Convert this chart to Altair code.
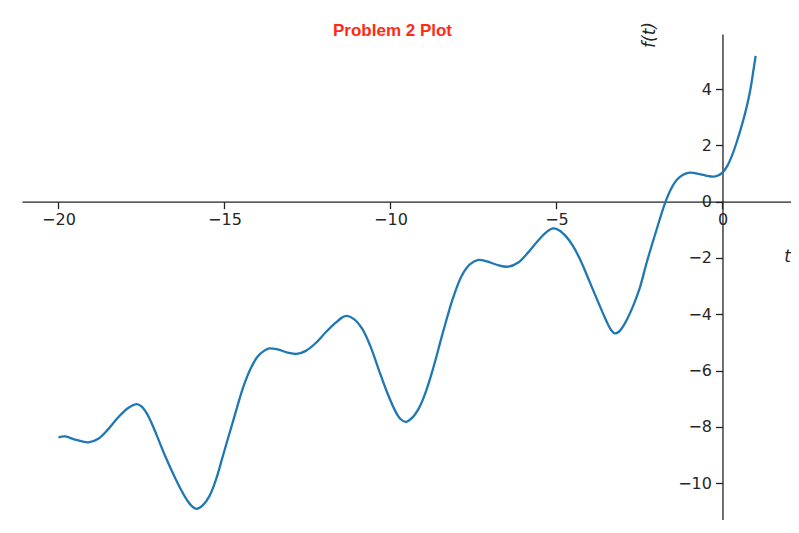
import altair as alt
import pandas as pd

# Values (t, f(t))
t_values = [-20.0, -19.8, -19.5, -19.1, -18.8, -18.5, -18.2, -17.9, -17.64,
            -17.5, -17.35, -17.2, -17.04, -16.8, -16.54, -16.3, -16.1, -15.95, -15.84,
            -15.65, -15.45, -15.25, -15.04, -14.73, -14.43, -14.2, -14.0, -13.8, -13.65,
            -13.4, -13.1, -12.83, -12.55, -12.25, -11.95, -11.65, -11.45, -11.32,
            -11.1, -10.85, -10.6, -10.35, -10.1, -9.85, -9.7, -9.54,
            -9.35, -9.15, -8.95, -8.71, -8.41, -8.11, -7.85, -7.6, -7.35,
            -7.1, -6.8, -6.45, -6.15, -5.85, -5.55, -5.3, -5.10,
            -4.9, -4.7, -4.5, -4.25, -4.0, -3.75, -3.58, -3.44, -3.34, -3.24,
            -3.12, -2.98, -2.85, -2.69, -2.5, -2.28, -2.0, -1.73, -1.55, -1.38, -1.2, -0.98,
            -0.75, -0.5, -0.28, -0.15, 0.0, 0.15, 0.3, 0.43, 0.58, 0.73, 0.85, 0.93, 1.0]
f_values = [-8.37, -8.34, -8.45, -8.55, -8.42, -8.08, -7.66, -7.33, -7.19,
            -7.27, -7.50, -7.85, -8.30, -9.00, -9.68, -10.25, -10.65, -10.85, -10.91,
            -10.78, -10.45, -9.85, -9.00, -7.75, -6.57, -5.90, -5.50, -5.29, -5.21,
            -5.25, -5.36, -5.41, -5.30, -5.02, -4.64, -4.30, -4.11, -4.06,
            -4.17, -4.52, -5.15, -5.98, -6.78, -7.45, -7.72, -7.82,
            -7.68, -7.35, -6.80, -5.90, -4.60, -3.40, -2.62, -2.22, -2.07,
            -2.12, -2.24, -2.31, -2.16, -1.80, -1.38, -1.08, -0.95,
            -1.03, -1.25, -1.58, -2.15, -2.85, -3.55, -4.02, -4.38, -4.58, -4.68,
            -4.62, -4.40, -4.12, -3.70, -3.10, -2.15, -1.05, -0.05, 0.45, 0.77, 0.95, 1.03,
            1.00, 0.93, 0.89, 0.92, 1.03, 1.28, 1.68, 2.12, 2.70, 3.37, 4.05, 4.65, 5.18]

x_ticks = [-20, -15, -10, -5, 0]
y_ticks = [-10, -8, -6, -4, -2, 0, 2, 4]

X_DOMAIN = [-21.099, 2.064]
Y_DOMAIN = [-11.308, 5.957]
W, H = 769, 486

df = pd.DataFrame({"t": t_values, "f": f_values})

x_off = -W * (0 - X_DOMAIN[0]) / (X_DOMAIN[1] - X_DOMAIN[0])
y_off = -H * (0 - Y_DOMAIN[0]) / (Y_DOMAIN[1] - Y_DOMAIN[0])

axis_common = dict(
    grid=False,
    domainColor="#222222",
    domainWidth=1.3,
    tickColor="#222222",
    tickWidth=1.3,
    tickSize=7,
    labelFont="DejaVu Sans",
    labelFontSize=16,
    labelColor="#262626",
    labelOverlap=False,
    labelFlush=False,
    format="d",
    titleFont="DejaVu Sans",
    titleFontSize=17,
    titleFontStyle="italic",
    titleFontWeight="normal",
    titleColor="#262626",
    titleAlign="center",
    titleBaseline="middle",
)

chart = alt.Chart(df).mark_line(
    interpolate="catmull-rom", color="#1f77b4", strokeWidth=2.3
).encode(
    x=alt.X("t:Q",
            scale=alt.Scale(domain=X_DOMAIN, nice=False, zero=False),
            axis=alt.Axis(values=x_ticks, offset=y_off, title="t",
                          titleX=765, titleY=55, labelPadding=3,
                          **axis_common)),
    y=alt.Y("f:Q",
            scale=alt.Scale(domain=Y_DOMAIN, nice=False, zero=False),
            axis=alt.Axis(values=y_ticks, offset=x_off, title="f(t)",
                          titleX=-72.5, titleY=0.5, titleAngle=270,
                          labelPadding=4, **axis_common)),
).properties(
    width=W,
    height=H,
    title=alt.TitleParams("Problem 2 Plot", color="#ff2a12", font="Liberation Sans",
                          fontSize=17, fontWeight="bold", anchor="middle",
                          frame="group", offset=0, dx=-14, dy=31,
                          baseline="alphabetic"),
    autosize=alt.AutoSizeParams(type="none"),
    padding={"left": 14, "top": 26, "right": 0, "bottom": 0},
).configure_view(strokeWidth=0)

chart.save("out.html", embed_options={"renderer": "svg", "actions": False})
